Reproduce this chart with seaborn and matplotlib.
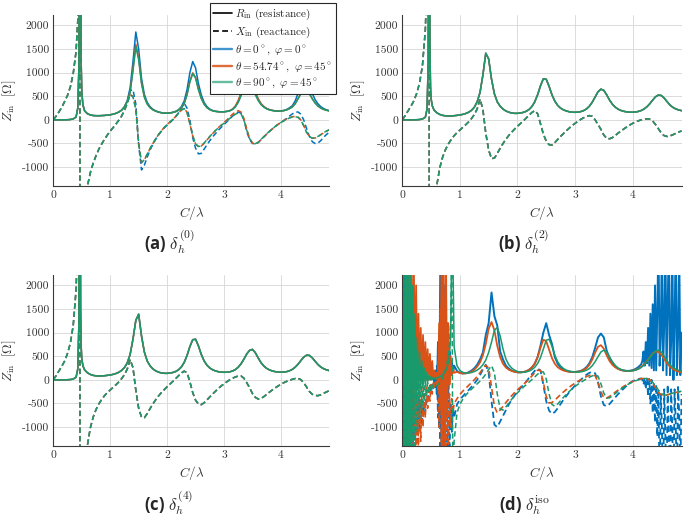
import numpy as np
import matplotlib
matplotlib.use("Agg")
import matplotlib.pyplot as plt
import seaborn as sns
from matplotlib.lines import Line2D

# grilles C/lambda (points serres autour de la resonance vers 0.47)
C_debut = [0, 0.05, 0.10, 0.15, 0.20, 0.25, 0.30, 0.35, 0.40, 0.43, 0.45, 0.46,
           0.465, 0.47, 0.475, 0.48, 0.49, 0.50, 0.52, 0.55]
C_abc = np.concatenate([C_debut, np.round(np.arange(0.60, 4.851, 0.05), 2)])
C_d_low = np.round(np.arange(0, 0.901, 0.02), 2)
C_d_mid = np.round(np.arange(0.95, 4.151, 0.05), 2)
C_d_hi = np.round(np.arange(4.17, 4.851, 0.02), 2)
C_d_tail = np.round(np.arange(4.20, 4.851, 0.05), 2)

# ---- (a) delta_h^(0) : debut commun jusqu'a C/lambda = 1.20
R_a_head = [0, 0, 0, 0, 1, 3, 8, 20, 60, 250, 1100, 4000, 12000, 25000, 12000, 4000,
            1200, 600, 320, 190, 130, 105, 92, 88, 88, 90, 94, 100, 108, 120, 138, 165, 205]
X_a_head = [0, 80, 170, 270, 390, 520, 700, 980, 1450, 2100, 3000, 4500, 9000, -9000,
            -6000, -4500, -3300, -2700, -2100, -1750, -1400, -1120, -920, -760, -620,
            -510, -410, -320, -240, -165, -90, -10, 80]

R_a_blue = R_a_head + [
    280, 410, 680, 1230, 1860, 1500, 880, 540, 370, 280,
    225, 190, 168, 152, 143, 142, 148, 160, 180, 215,
    280, 400, 640, 1000, 1235, 1100, 770, 530, 370, 280,
    228, 198, 182, 174, 170, 172, 180, 195, 225, 290,
    400, 560, 730, 850, 860, 760, 580, 440, 340, 280,
    240, 215, 200, 190, 186, 190, 200, 220, 255, 300,
    400, 560, 720, 825, 815, 720, 560, 430, 340, 280,
    240, 212, 195]
R_a_orange = R_a_head + [
    275, 390, 600, 1070, 1600, 1310, 790, 490, 340, 262,
    215, 185, 165, 150, 142, 141, 146, 157, 175, 205,
    260, 350, 540, 820, 995, 900, 650, 460, 335, 260,
    218, 193, 180, 173, 170, 172, 180, 196, 228, 295,
    410, 570, 740, 855, 865, 765, 585, 445, 342, 280,
    240, 215, 200, 190, 185, 188, 196, 212, 240, 275,
    345, 450, 560, 625, 620, 560, 450, 360, 295, 250,
    222, 203, 190]
R_a_green = R_a_head + [
    272, 385, 585, 1040, 1555, 1275, 770, 480, 335, 258,
    213, 184, 164, 150, 142, 141, 146, 156, 174, 203,
    255, 345, 530, 805, 978, 885, 640, 455, 332, 258,
    217, 192, 179, 172, 169, 171, 178, 192, 220, 275,
    370, 510, 655, 755, 765, 680, 530, 410, 322, 268,
    232, 210, 197, 188, 184, 187, 195, 210, 237, 272,
    340, 442, 550, 615, 612, 555, 447, 358, 294, 250,
    222, 203, 190]
X_a_blue = X_a_head + [
    200, 360, 620, 640, 340, -530, -1060, -960, -790, -640,
    -520, -410, -320, -240, -170, -110, -60, 0, 70, 150,
    250, 350, 250, 0, -380, -600, -720, -710, -620, -530,
    -440, -360, -290, -220, -160, -100, -40, 20, 80, 130,
    165, 140, 0, -250, -420, -500, -510, -480, -420, -360,
    -300, -245, -190, -140, -95, -50, -10, 30, 80, 125,
    160, 168, 120, 0, -180, -350, -460, -500, -490, -440,
    -370, -310, -260]
X_a_orange = X_a_head + [
    200, 350, 540, 500, 230, -500, -910, -850, -730, -610,
    -500, -400, -310, -230, -160, -100, -45, 10, 70, 140,
    210, 245, 160, -80, -340, -510, -570, -555, -495, -425,
    -355, -290, -225, -165, -110, -55, 0, 60, 120, 170,
    195, 165, 30, -200, -390, -490, -510, -480, -420, -360,
    -300, -245, -190, -140, -95, -55, -20, 15, 45, 65,
    75, 60, 0, -120, -260, -350, -390, -385, -355, -315,
    -275, -240, -210]
X_a_green = X_a_head + [
    200, 348, 530, 490, 220, -500, -900, -845, -725, -605,
    -495, -398, -310, -230, -160, -100, -45, 10, 70, 138,
    205, 240, 155, -80, -335, -505, -565, -550, -490, -420,
    -350, -285, -225, -170, -120, -70, -20, 30, 80, 120,
    145, 120, 0, -220, -400, -495, -505, -475, -415, -355,
    -295, -240, -188, -140, -95, -55, -20, 12, 40, 58,
    68, 52, -5, -125, -262, -350, -388, -382, -352, -312,
    -272, -238, -208]

# ---- (b) et (c) : les trois orientations se superposent
R_bc_head = [0, 0, 0, 0, 1, 3, 7, 18, 55, 230, 1200, 6000, 20000, 12000, 3500, 1500,
             700, 450, 300, 210, 150, 115, 95, 85, 82, 84, 88, 95, 104, 116, 134, 160, 200]
X_bc_head = [0, 90, 190, 290, 400, 560, 780, 1150, 1900, 3000, 5500, 9000, 14000, -14000,
             -7000, -5000, -3500, -2800, -2200, -1750, -1380, -1020, -790, -630, -510,
             -415, -335, -270, -215, -160, -105, -45, 25]

R_b = R_bc_head + [
    265, 380, 580, 950, 1410, 1290, 860, 550, 380, 288,
    228, 188, 162, 146, 138, 138, 145, 158, 180, 218,
    280, 380, 530, 720, 870, 860, 710, 530, 395, 305,
    248, 212, 188, 172, 163, 160, 164, 175, 196, 232,
    290, 375, 485, 595, 650, 625, 530, 420, 330, 268,
    226, 198, 180, 169, 163, 162, 167, 178, 198, 230,
    278, 342, 420, 490, 525, 515, 460, 385, 315, 265,
    232, 210, 195]
X_b = X_bc_head + [
    110, 230, 440, 220, -280, -640, -820, -810, -710, -600,
    -500, -410, -330, -260, -195, -135, -80, -25, 35, 95,
    155, 195, 130, -80, -300, -450, -525, -535, -480, -415,
    -350, -290, -230, -175, -120, -75, -30, 10, 45, 72,
    90, 75, 0, -100, -200, -320, -390, -400, -375, -330,
    -280, -235, -190, -150, -110, -75, -45, -20, 0, 14,
    22, 15, -25, -100, -190, -280, -335, -352, -340, -315,
    -285, -258, -235]
R_c = R_bc_head + [
    260, 360, 540, 860, 1260, 1390, 930, 590, 400, 298,
    232, 190, 163, 147, 139, 138, 144, 156, 177, 213,
    272, 368, 515, 705, 850, 860, 720, 540, 402, 310,
    251, 214, 189, 173, 164, 160, 162, 170, 188, 218,
    268, 342, 440, 550, 625, 645, 575, 465, 365, 292,
    243, 210, 188, 174, 166, 163, 165, 174, 192, 222,
    268, 330, 408, 480, 522, 518, 468, 395, 325, 272,
    236, 212, 196]
X_c = X_bc_head + [
    110, 230, 430, 260, -220, -600, -790, -800, -715, -610,
    -510, -420, -340, -270, -205, -145, -90, -35, 25, 85,
    145, 185, 150, -40, -270, -430, -510, -525, -485, -425,
    -360, -300, -240, -185, -130, -85, -40, 0, 35, 62,
    80, 82, 35, -60, -170, -290, -370, -405, -395, -355,
    -305, -258, -212, -170, -130, -93, -60, -32, -8, 12,
    28, 32, 5, -60, -150, -245, -305, -330, -335, -315,
    -285, -255, -230]

# ---- (d) delta_h^iso : oscillations numeriques aux basses frequences
R_d_blue = [0, 2500, -1500, 2500, -1500, 2500, -1500, 2200, -1200, 1500,
            -600, 800, -200, 400, 0, 250, 20, 150, 30, 100,
            30, 80, 30, 60, 20, 60, 10, 80, -50, 200,
            -300, 800, -1000, 2500, -1500, 2500, -1500, 2000, -800, 1200,
            -200, 600, 100, 400, 150, 300] + [
            190, 150, 135, 140, 160, 195, 245, 320, 430, 580,
            950, 1200, 1850, 1350, 1150, 600, 430, 300, 240, 195,
            175, 160, 158, 165, 180, 210, 260, 340, 480, 720,
            1000, 1200, 950, 760, 480, 340, 260, 215, 190, 175,
            168, 168, 175, 190, 220, 270, 350, 480, 680, 900,
            980, 900, 620, 460, 350, 280, 235, 210, 195, 190,
            192, 205, 230, 270, 330] + [
            400, 600, 300, 800, 350, 1100, 300, 1400, 250, 1600,
            200, 2000, 200, 1500, 3000, 300, 900, 3000, 200, 1200,
            3000, 100, 1500, 3000, 100, 800, 3000, 0, 1200, 3000,
            100, 900, 2800, 100, 1000]
X_d_blue = [0, -1500, 2000, -1600, 1500, -1600, 1000, -1600, 500, -1600,
            0, -1500, -300, -1300, -400, -1100, -450, -900, -450, -700,
            -400, -550, -300, -400, -200, -280, -100, -180, 0, -200,
            300, -800, 1000, -1600, 2000, -1600, 1500, -1600, 600, -1600,
            -200, -1400, -500, -1100, -600, -800] + [
            -520, -420, -350, -280, -220, -150, -80, 0, 100, 220,
            320, 150, -450, -950, -1000, -880, -760, -640, -520, -420,
            -330, -250, -180, -110, -40, 40, 120, 190, 240, 200,
            -100, -450, -650, -720, -680, -600, -510, -420, -340, -260,
            -190, -120, -60, 0, 60, 110, 150, 170, 140, -50,
            -350, -530, -560, -510, -440, -370, -300, -240, -180, -120,
            -70, -30, 0, 20, 30] + [
            0, -100, 50, -200, 30, -350, 20, -500, 0, -700,
            -50, -900, -100, -1200, -200, -2500, -300, -1000, -2500, -200,
            -1200, -2500, -100, -1200, -2500, -200, -1000, -2500, -200, -900,
            -2500, -150, -700, -2000, -300]
R_d_orange = [0, 0, 600, -300, 2500, -200, 2500, -100, 2500, -100,
              2500, 0, 2000, 0, 1400, 0, 1100, 0, 950, 0,
              800, 0, 650, 0, 550, 0, 400, 20, 200, 30,
              150, -200, 1200, -600, 2500, -1500, 2500, -1500, 2500, -800,
              1200, -100, 500, 100, 250, 150] + [
              170, 145, 135, 138, 150, 175, 215, 280, 370, 520,
              760, 1080, 1225, 1050, 720, 480, 340, 260, 215, 188,
              170, 160, 158, 165, 182, 212, 262, 345, 480, 680,
              850, 820, 640, 460, 340, 268, 225, 198, 182, 172,
              167, 167, 173, 186, 210, 250, 320, 430, 580, 700,
              735, 660, 520, 400, 318, 265, 230, 208, 195, 188,
              188, 195, 210, 235, 275] + [
              330, 400, 480, 560, 600, 590, 530, 440, 350, 280, 230, 195, 175, 160]
X_d_orange = [0, 0, -300, 400, -1600, 300, -1600, 200, -1600, 100,
              -1600, 0, -1600, -50, -1500, -100, -1300, -150, -1000, -150,
              -800, -150, -600, -120, -450, -100, -300, -60, -150, 0,
              -100, 400, -1000, 1500, -1600, 2500, -1600, 1500, -1600, 300,
              -1500, -300, -1000, -400, -700, -500] + [
              -400, -310, -240, -180, -120, -60, 0, 70, 150, 240,
              310, 250, -150, -560, -700, -640, -560, -480, -405, -335,
              -270, -210, -155, -100, -45, 15, 80, 150, 205, 200,
              -50, -350, -490, -480, -430, -370, -310, -255, -205, -155,
              -110, -70, -30, 5, 40, 70, 95, 105, 90, -50,
              -250, -380, -385, -350, -305, -260, -215, -175, -135, -100,
              -65, -35, -10, 10, 25] + [
              35, 30, 0, -70, -170, -270, -320, -330, -320, -300, -280, -265, -255, -245]
R_d_green = [0, 2500, -1500, 2500, -1500, 2500, -1500, 2500, -1200, 2000,
             -800, 1400, -500, 900, -300, 600, -200, 400, -120, 250,
             -80, 160, -40, 100, 0, 70, 10, 50, 20, 40,
             40, 50, 60, 75, 90, 110, 135, 165, 210, 280,
             380, 550, 900, 3000, 2500, 700] + [
             300, 200, 160, 145, 145, 155, 175, 205, 250, 320,
             420, 580, 800, 1050, 1110, 930, 650, 440, 320, 250,
             205, 178, 165, 162, 168, 185, 215, 265, 345, 470,
             650, 840, 860, 710, 520, 380, 295, 240, 205, 185,
             172, 166, 165, 170, 182, 205, 240, 300, 385, 490,
             590, 630, 590, 490, 385, 305, 252, 220, 200, 190,
             188, 193, 205, 228, 262] + [
             315, 390, 470, 550, 610, 630, 590, 500, 400, 320, 265, 228, 202, 185]
X_d_green = [0, -1500, 2500, -1600, 2500, -1600, 2000, -1600, 1500, -1600,
             900, -1400, 500, -1100, 250, -800, 100, -600, 20, -450,
             -30, -350, -60, -270, -90, -220, -110, -180, -130, -140,
             -120, -100, -70, -40, 0, 50, 110, 180, 260, 370,
             520, 750, 1200, 2800, -2500, -1300] + [
             -700, -520, -410, -330, -260, -200, -140, -85, -25, 40,
             120, 220, 300, 150, -300, -620, -640, -570, -490, -410,
             -340, -275, -215, -160, -105, -50, 5, 60, 120, 165,
             170, 20, -300, -520, -560, -510, -440, -370, -305, -245,
             -190, -140, -95, -55, -15, 20, 55, 85, 100, 80,
             -80, -280, -385, -380, -340, -290, -240, -195, -150, -110,
             -75, -45, -20, 0, 20] + [
             30, 25, 0, -50, -130, -220, -290, -320, -320, -300, -280, -262, -250, -240]

C_d_blue = np.concatenate([C_d_low, C_d_mid, C_d_hi])
C_d_other = np.concatenate([C_d_low, C_d_mid, C_d_tail])

# couleurs Matlab
bleu, orange, vert = "#0072BD", "#D95319", "#199a6c"
tirets = (0, (3.5, 2.0))

sns.set_style("white")
plt.rcParams["font.family"] = "serif"
plt.rcParams["font.serif"] = ["cmr10", "DejaVu Serif"]
plt.rcParams["mathtext.fontset"] = "cm"
plt.rcParams["axes.unicode_minus"] = False

fig = plt.figure(figsize=(6.87, 5.19), dpi=100)
W, H = 687, 519


def add_axes(x0, x1, y0, y1):
    return fig.add_axes([x0 / W, 1 - y1 / H, (x1 - x0) / W, (y1 - y0) / H])


ax_a = add_axes(53.3, 329.3, 15, 186)
ax_b = add_axes(402.3, 681.5, 15, 186)
ax_c = add_axes(53.3, 329.3, 275, 446)
ax_d = add_axes(402.3, 681.5, 275, 446)


def courbe(ax, x, y, couleur, pointille=False, lw=1.1):
    sns.lineplot(x=x, y=y, ax=ax, color=couleur, lw=lw, estimator=None, sort=False,
                 linestyle=tirets if pointille else "-")


# (a)
for R, X, col in [(R_a_blue, X_a_blue, bleu), (R_a_orange, X_a_orange, orange),
                  (R_a_green, X_a_green, vert)]:
    courbe(ax_a, C_abc, R, col)
    courbe(ax_a, C_abc, X, col, True)

# (b) et (c)
for ax, R, X in [(ax_b, R_b, X_b), (ax_c, R_c, X_c)]:
    for col in [bleu, orange, vert]:
        courbe(ax, C_abc, R, col)
        courbe(ax, C_abc, X, col, True)

# (d)
courbe(ax_d, C_d_blue, R_d_blue, bleu, lw=1.4)
courbe(ax_d, C_d_blue, X_d_blue, bleu, True, lw=1.3)
courbe(ax_d, C_d_other, R_d_orange, orange, lw=1.3)
courbe(ax_d, C_d_other, X_d_orange, orange, True, lw=1.2)
courbe(ax_d, C_d_other, R_d_green, vert, lw=1.1)
courbe(ax_d, C_d_other, X_d_green, vert, True, lw=1.1)

yticks = [-1000, -500, 0, 500, 1000, 1500, 2000]
for ax in [ax_a, ax_b, ax_c, ax_d]:
    ax.set_xlim(0, 4.85)
    ax.set_ylim(-1400, 2220)
    ax.set_xticks([0, 1, 2, 3, 4])
    ax.set_xticklabels(["0", "1", "2", "3", "4"])
    ax.set_yticks(yticks)
    ax.set_yticklabels([str(t) for t in yticks])
    ax.grid(True, color="#d6d6d6", lw=0.6)
    ax.set_axisbelow(True)
    for s in ["top", "right"]:
        ax.spines[s].set_visible(False)
    for s in ["left", "bottom"]:
        ax.spines[s].set_color("#3a3a3a")
        ax.spines[s].set_linewidth(0.8)
    ax.tick_params(direction="in", length=2.5, width=0.6, labelsize=8.3,
                   colors="#333333", pad=3)
    ax.set_xlabel(r"$C/\lambda$", fontsize=9.5, color="#333333", labelpad=3)
    ax.set_ylabel(r"$Z_{\rm in}\ \ [\Omega]$", fontsize=9.5, color="#333333", labelpad=3)

# legende du panneau (a)
poignees = [Line2D([], [], color="black", lw=1.2),
            Line2D([], [], color="black", lw=1.2, ls=tirets),
            Line2D([], [], color=bleu, lw=1.7, alpha=0.75),
            Line2D([], [], color=orange, lw=1.7, alpha=0.85),
            Line2D([], [], color=vert, lw=1.7, alpha=0.65)]
textes = [r"$R_{\rm in}$ (resistance)", r"$X_{\rm in}$ (reactance)",
          r"$\theta=0^\circ,\ \varphi=0^\circ$",
          r"$\theta=54.74^\circ,\ \varphi=45^\circ$",
          r"$\theta=90^\circ,\ \varphi=45^\circ$"]
leg = ax_a.legend(poignees, textes, loc="upper right", bbox_to_anchor=(336 / W, 1 - 3 / H),
                  bbox_transform=fig.transFigure, fontsize=8, fancybox=False,
                  edgecolor="#262626", framealpha=1, borderpad=0.3, labelspacing=0.3,
                  handlelength=1.7, handletextpad=0.3, borderaxespad=0)
leg.get_frame().set_linewidth(0.8)

# sous-titres
for x, y, txt in [(169, 250, r"(a) $\delta_h^{(0)}$"), (524, 250, r"(b) $\delta_h^{(2)}$"),
                  (169, 511, r"(c) $\delta_h^{(4)}$"), (524, 511, r"(d) $\delta_h^{\rm iso}$")]:
    fig.text(x / W, 1 - y / H, txt, ha="center", va="baseline", family=["Open Sans"],
             weight="bold", size=12)

fig.savefig("out.png", dpi=100)
